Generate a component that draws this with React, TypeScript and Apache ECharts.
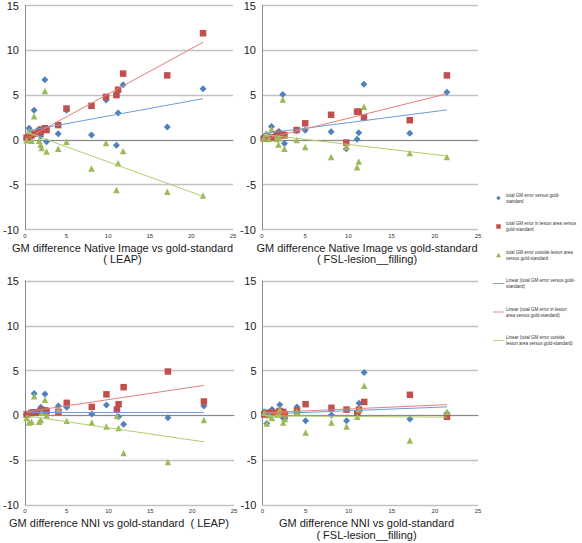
import React, { useEffect, useRef } from "react";
import * as echarts from "echarts";

// subject x values (shared by all panels)
const subjX = [0.2, 0.5, 0.8, 1.1, 1.7, 1.9, 2.0, 2.4, 2.6, 4.0, 5.0, 8.0, 9.75, 11.0, 11.2, 11.8, 17.1, 21.4];

// Panel 1: Native Image vs gold-standard (LEAP)
const p1Blue = [0.2, 1.3, 0.4, 3.3, 1.2, 0.4, 1.1, 6.7, -0.2, 0.7, 3.3, 0.55, 4.45, -0.6, 3.0, 6.15, 1.45, 5.7];
const p1Red = [0.25, 0.3, 0.5, 0.7, 1.0, 0.9, 1.15, 1.3, 1.1, 1.65, 3.5, 3.8, 4.8, 5.0, 5.6, 7.4, 7.2, 11.9];
const p1Green = [-0.05, 1.0, -0.1, 2.65, -0.1, -0.5, -0.9, 5.45, -1.3, -1.0, -0.2, -3.2, -0.35, -5.6, -2.6, -1.25, -5.8, -6.2];

// Panel 2: Native Image vs gold-standard (FSL-lesion_filling)
const p2Blue = [0.3, 0.6, 0.4, 1.5, 0.7, 0.9, 0.9, 5.07, -0.4, 1.05, 1.07, 0.9, -1.0, 0.07, 0.8, 6.2, 0.75, 5.33];
const p2Red = [0.15, 0.2, 0.3, 0.3, 0.6, 0.65, 0.7, 0.6, 0.5, 1.1, 1.85, 2.8, -0.3, 3.15, 3.15, 2.5, 2.2, 7.2];
const p2Green = [0.15, 0.7, 0.1, 1.2, 0.1, -0.5, 0.2, 4.5, -1.0, 0.0, -0.8, -1.9, -0.8, -3.05, -2.4, 3.7, -1.45, -1.9];

// Panel 3: NNI vs gold-standard (LEAP)
const p3Blue = [0.1, 0.2, 0.3, 2.45, 0.6, 0.9, 0.5, 2.4, 0.3, 1.05, 0.9, 0.15, 1.15, 0.6, -0.15, -1.0, -0.25, 1.05];
const p3Red = [0.1, 0.15, 0.3, 0.35, 0.3, 0.4, 0.6, 0.55, 0.5, 0.4, 1.4, 0.95, 2.35, 0.65, 1.25, 3.15, 4.9, 1.55];
const p3Green = [-0.3, -0.8, -0.7, 2.15, -0.7, -0.5, 0.3, 1.75, 0.0, 0.6, -0.6, -0.8, -1.25, -0.05, -1.4, -4.2, -5.2, -0.5];

// Panel 4: NNI vs gold-standard (FSL-lesion_filling)
const p4Blue = [0.4, -0.9, 0.3, 0.65, 0.3, 0.5, 1.2, -0.3, -0.35, 0.95, -0.6, 0.05, -0.6, 0.2, 1.35, 4.8, -0.4, 0.25];
const p4Red = [0.1, 0.15, 0.3, 0.3, 0.2, 0.4, 0.5, 0.4, 0.15, 0.5, 1.25, 0.85, 0.65, 0.2, 0.65, 1.5, 2.3, -0.15];
const p4Green = [0.3, -0.9, 0.0, -0.3, 0.1, 0.1, 0.65, -0.8, -0.4, 0.4, -1.9, -0.8, -1.25, -0.15, 0.7, 3.3, -2.8, 0.4];

// Linear trend lines: x range and y at the two ends
const trendX = [0.2, 21.4];
const p1BlueTrend = [1.0, 4.6];
const p1RedTrend = [0.15, 10.9];
const p1GreenTrend = [0.85, -6.3];
const p2BlueTrend = [0.7, 3.35];
const p2RedTrend = [0.07, 5.15];
const p2GreenTrend = [0.6, -1.8];
const p3BlueTrend = [0.33, 0.33];
const p3RedTrend = [0.4, 3.35];
const p3GreenTrend = [-0.05, -2.95];
const p4BlueTrend = [0.15, 0.95];
const p4RedTrend = [0.3, 1.2];
const p4GreenTrend = [-0.05, -0.2];

const yTicks = [-10, -5, 0, 5, 10, 15];
const xTicks = [0, 5, 10, 15, 20, 25];

const seriesNames = [
  "total GM error versus gold-standard",
  "total GM error in lesion area versus gold-standard",
  "total GM error outside lesion area versus gold-standard",
  "Linear (total GM error versus gold-standard)",
  "Linear (total GM error in lesion area versus gold-standard)",
  "Linear (total GM error outside lesion area versus gold-standard)",
];
const legendLabels = [
  "total GM error versus gold-\nstandard",
  "total GM error in lesion area versus\ngold-standard",
  "total GM error outside lesion area\nversus gold-standard",
  "Linear (total GM error versus gold-\nstandard)",
  "Linear (total GM error in lesion\narea versus gold-standard)",
  "Linear (total GM error outside\nlesion area versus gold-standard)",
];

const titleLines = [
  ["GM difference Native Image vs gold-standard", "( LEAP)"],
  ["GM difference Native Image vs gold-standard", "( FSL-lesion__filling)"],
  ["GM difference NNI vs gold-standard  ( LEAP)"],
  ["GM difference NNI vs gold-standard", "( FSL-lesion__filling)"],
];

const BLUE = "#4F81BD";
const RED = "#C0504D";
const GREEN = "#9BBB59";
const BLUE_T = "#6F9BD6";
const RED_T = "#E2807C";
const GREEN_T = "#B2CE6C";
const LINE_ICON = "path://M0 0H20V1.6H0Z";
const DIAMOND_ICON = "path://M5 0L10 5L5 10L0 5Z";
const SQUARE_ICON = "path://M0 0H10V10H0Z";
const TRIANGLE_ICON = "path://M5 0L10 9H0Z";

export default function App() {
  const ref = useRef<HTMLDivElement>(null);
  useEffect(() => {
    if (!ref.current) return;
    const chart = echarts.init(ref.current, null, { renderer: "svg" });

    const grids = [
      { left: 19, top: 4.5, width: 214, height: 225 },
      { left: 262, top: 4.5, width: 216, height: 225 },
      { left: 20, top: 281, width: 214, height: 224 },
      { left: 262.5, top: 281, width: 215.5, height: 224 },
    ];
    const panels = [
      [p1Blue, p1Red, p1Green, p1BlueTrend, p1RedTrend, p1GreenTrend],
      [p2Blue, p2Red, p2Green, p2BlueTrend, p2RedTrend, p2GreenTrend],
      [p3Blue, p3Red, p3Green, p3BlueTrend, p3RedTrend, p3GreenTrend],
      [p4Blue, p4Red, p4Green, p4BlueTrend, p4RedTrend, p4GreenTrend],
    ];

    const xAxis = grids.map((_, i) => ({
      type: "value",
      gridIndex: i,
      min: xTicks[0],
      max: xTicks[xTicks.length - 1],
      interval: 5,
      axisLine: { show: true, onZero: true, lineStyle: { color: "#8a8a8a", width: 1 } },
      axisTick: { show: false },
      splitLine: { show: false },
      axisLabel: { fontSize: 6, margin: 3, color: "#333", fontFamily: "Liberation Sans" },
    }));
    const yAxis = grids.map((_, i) => ({
      type: "value",
      gridIndex: i,
      min: yTicks[0],
      max: yTicks[yTicks.length - 1],
      interval: 5,
      axisLine: { show: true, onZero: false, lineStyle: { color: "#8a8a8a", width: 1 } },
      axisTick: { show: false },
      splitLine: { show: true, lineStyle: { color: "#c2c2c2", width: 1.4 } },
      axisLabel: { fontSize: 11, margin: 6, color: "#222", fontFamily: "Liberation Sans" },
    }));

    const series: any[] = [];
    panels.forEach((p, i) => {
      const [b, r, g, bt, rt, gt] = p as number[][];
      const sc = (name: string, ys: number[], symbol: string, color: string, size: number, z: number) => ({
        type: "scatter",
        name,
        xAxisIndex: i,
        yAxisIndex: i,
        symbol,
        symbolSize: size,
        itemStyle: { color, opacity: 1 },
        z,
        data: subjX.map((x, k) => [x, ys[k]]),
      });
      const ln = (name: string, ys: number[], color: string) => ({
        type: "line",
        name,
        xAxisIndex: i,
        yAxisIndex: i,
        symbol: "none",
        lineStyle: { color, width: 1 },
        itemStyle: { color },
        z: 5,
        data: trendX.map((x, k) => [x, ys[k]]),
      });
      series.push(sc(seriesNames[0], b, "diamond", BLUE, 7, 2));
      series.push(sc(seriesNames[1], r, "rect", RED, 6.5, 3));
      series.push(sc(seriesNames[2], g, "triangle", GREEN, 6.5, 4));
      series.push(ln(seriesNames[3], bt, BLUE_T));
      series.push(ln(seriesNames[4], rt, RED_T));
      series.push(ln(seriesNames[5], gt, GREEN_T));
    });

    const titleFont = "11px 'Liberation Sans', Arial, sans-serif";
    const titlePos = [
      { x: 122.5, ys: [247.7, 259.3] },
      { x: 367, ys: [247.7, 259.3] },
      { x: 119, ys: [523.3] },
      { x: 366.5, ys: [523.3, 534.5] },
    ];
    const graphic: any[] = [];
    titleLines.forEach((lines, i) => {
      lines.forEach((t, k) => {
        graphic.push({
          type: "text",
          x: titlePos[i].x,
          y: titlePos[i].ys[k],
          style: { text: t, font: titleFont, fill: "#1a1a1a", textAlign: "center", textVerticalAlign: "middle" },
        });
      });
    });

    chart.setOption({
      animation: false,
      backgroundColor: "#ffffff",
      grid: grids,
      xAxis,
      yAxis,
      series,
      graphic,
      legend: {
        orient: "vertical",
        left: 493,
        top: 192,
        padding: 0,
        itemWidth: 11,
        itemHeight: 4.5,
        itemGap: 16.5,
        selectedMode: false,
        textStyle: { fontSize: 4.5, lineHeight: 6, color: "#333", fontFamily: "Liberation Sans", padding: [0, 0, 0, -3] },
        data: [
          { name: seriesNames[0], icon: DIAMOND_ICON },
          { name: seriesNames[1], icon: SQUARE_ICON },
          { name: seriesNames[2], icon: TRIANGLE_ICON },
          { name: seriesNames[3], icon: LINE_ICON },
          { name: seriesNames[4], icon: LINE_ICON },
          { name: seriesNames[5], icon: LINE_ICON },
        ],
        formatter: (name: string) => legendLabels[seriesNames.indexOf(name)],
      },
    });
    return () => chart.dispose();
  }, []);
  return (
    <div
      ref={ref}
      style={{ position: "absolute", left: 0, top: 0, width: 582, height: 543, background: "#fff" }}
    />
  );
}
